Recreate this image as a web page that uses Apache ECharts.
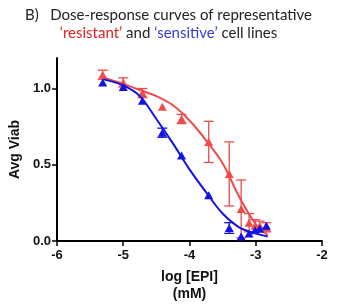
<!DOCTYPE html>
<html>
<head>
<meta charset="utf-8">
<script src="https://cdn.jsdelivr.net/npm/echarts@6/dist/echarts.min.js"></script>
<style>
    html, body {margin: 0; padding: 0; background: #fff;}
    #chart {width: 337px; height: 308px;}
</style>
</head>
<body>
<div id="chart"></div>
<script>
// measured points, log dose (mM)
var dose = [-5.31, -5.0, -4.71, -4.41, -4.12, -3.71, -3.40, -3.22, -3.10, -3.01, -2.94, -2.84];
var resistant = [1.09, 1.04, 0.97, 0.88, 0.80, 0.65, 0.44, 0.21, 0.12, 0.10, 0.10, 0.09];
var resistantErr = [0.03, 0.03, 0.03, 0, 0.03, 0.135, 0.21, 0.19, 0.06, 0.04, 0.03, 0.03];
var sensitive = [1.04, 1.01, 0.92, 0.71, 0.56, 0.30, 0.085, 0.03, 0.05, 0.07, 0.08, 0.10];
var sensitiveErr = [0, 0, 0, 0.03, 0, 0, 0.035, 0, 0, 0, 0, 0];

// fitted curves
var fitX = [-5.3, -5.0, -4.75, -4.5, -4.25, -4.0, -3.75, -3.5, -3.25, -3.0, -2.82];
var resistantFit = [1.07, 1.03, 0.99, 0.95, 0.89, 0.79, 0.66, 0.51, 0.29, 0.11, 0.04];
var sensitiveFit = [1.06, 1.02, 0.95, 0.80, 0.64, 0.47, 0.32, 0.18, 0.09, 0.05, 0.03];

var xTicks = [-6, -5, -4, -3, -2];
var yTicks = [0, 0.5, 1.0];

var RED = '#ef4b4b';
var BLUE = '#1212e6';

function pairs(xs, ys) {
    var out = [];
    for (var i = 0; i < xs.length; i++) out.push([xs[i], ys[i]]);
    return out;
}
function errRows(xs, ys, es) {
    var out = [];
    for (var i = 0; i < xs.length; i++) {
        if (es[i] > 0) out.push([xs[i], ys[i] - es[i], ys[i] + es[i]]);
    }
    return out;
}
function errBars(color) {
    return function(params, api) {
        var x = api.value(0);
        var lo = api.coord([x, api.value(1)]);
        var hi = api.coord([x, api.value(2)]);
        var w = 5;
        var st = {stroke: color, lineWidth: 1.3};
        return {
            type: 'group',
            children: [
                {type: 'line', shape: {x1: lo[0], y1: lo[1], x2: hi[0], y2: hi[1]}, style: st},
                {type: 'line', shape: {x1: hi[0] - w, y1: hi[1], x2: hi[0] + w, y2: hi[1]}, style: st},
                {type: 'line', shape: {x1: lo[0] - w, y1: lo[1], x2: lo[0] + w, y2: lo[1]}, style: st}
            ]
        };
    };
}

var myChart = echarts.init(document.getElementById('chart'));
var axisFont = {fontFamily: 'Liberation Sans', fontWeight: 'bold', fontSize: 13, color: '#111'};
var titleFont = {fontFamily: 'Lato', fontWeight: 'normal', fontSize: 15, lineHeight: 18};

myChart.setOption({
    animation: false,
    title: {
        left: 'center',
        top: 1,
        text: '{k|B)   Dose-response curves of representative}\n{r|\u2018resistant\u2019}{k| and }{b|\u2018sensitive\u2019}{k| cell lines}',
        textStyle: {
            rich: {
                k: Object.assign({color: '#222'}, titleFont),
                r: Object.assign({color: '#e42222'}, titleFont),
                b: Object.assign({color: '#3a3ad8'}, titleFont)
            }
        }
    },
    grid: {left: 50, right: 15, top: 58, bottom: 65},
    xAxis: {
        type: 'value',
        min: -6, max: -2, interval: 1,
        name: 'log [EPI]\n(mM)',
        nameLocation: 'middle',
        nameGap: 28,
        nameTextStyle: {fontFamily: 'Liberation Sans', fontWeight: 'bold', fontSize: 14, color: '#111', lineHeight: 17},
        axisLine: {lineStyle: {color: '#000', width: 2}},
        axisTick: {show: true, length: 5, lineStyle: {color: '#000', width: 1.5}, customValues: xTicks},
        axisLabel: Object.assign({margin: 8, customValues: xTicks}, axisFont),
        splitLine: {show: false}
    },
    yAxis: {
        type: 'value',
        min: 0, max: 1.2,
        name: 'Avg Viab',
        nameLocation: 'middle',
        nameGap: 30,
        nameTextStyle: {fontFamily: 'Liberation Sans', fontWeight: 'bold', fontSize: 14, color: '#111'},
        axisLine: {show: true, lineStyle: {color: '#000', width: 2}},
        axisTick: {show: true, length: 5, lineStyle: {color: '#000', width: 1.5}, customValues: yTicks},
        axisLabel: Object.assign({
            margin: 6,
            customValues: yTicks,
            formatter: function(v) { return v.toFixed(1); }
        }, axisFont),
        splitLine: {show: false}
    },
    series: [
        {
            type: 'line', data: pairs(fitX, resistantFit), smooth: 0.35,
            showSymbol: false, lineStyle: {color: RED, width: 2}, z: 2
        },
        {
            type: 'custom', renderItem: errBars(RED), data: errRows(dose, resistant, resistantErr), z: 3
        },
        {
            type: 'scatter', data: pairs(dose, resistant), symbol: 'triangle', symbolSize: [9, 8],
            itemStyle: {color: RED, opacity: 1}, z: 4
        },
        {
            type: 'line', data: pairs(fitX, sensitiveFit), smooth: 0.35,
            showSymbol: false, lineStyle: {color: BLUE, width: 2}, z: 5
        },
        {
            type: 'custom', renderItem: errBars(BLUE), data: errRows(dose, sensitive, sensitiveErr), z: 6
        },
        {
            type: 'scatter', data: pairs(dose, sensitive), symbol: 'triangle', symbolSize: [9, 8],
            itemStyle: {color: BLUE, opacity: 1}, z: 7
        }
    ]
});
</script>
</body>
</html>
